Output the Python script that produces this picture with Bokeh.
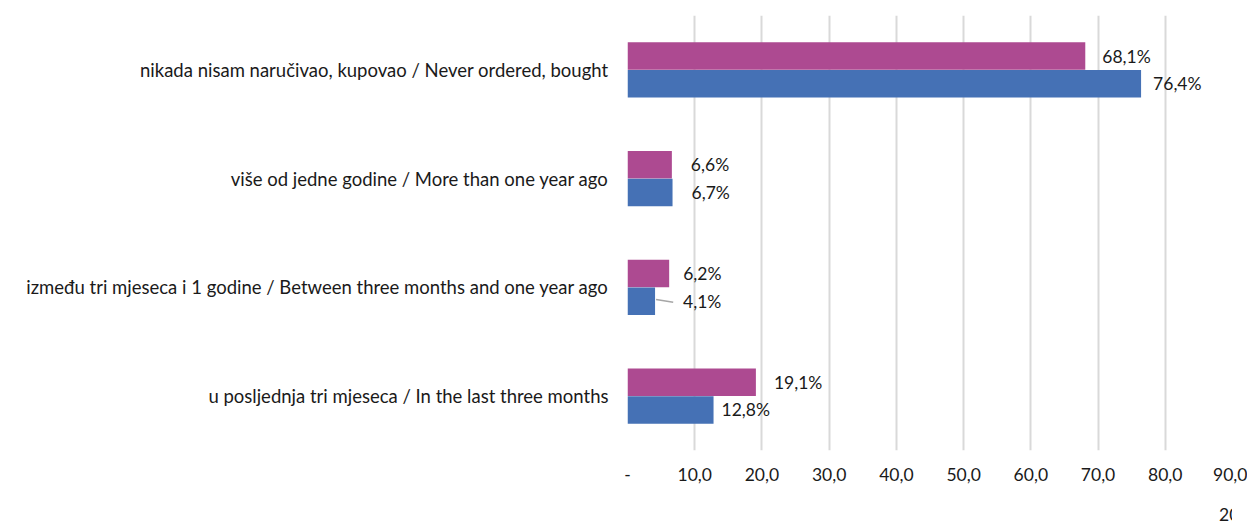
from bokeh.plotting import figure
from bokeh.layouts import column
from bokeh.models import ColumnDataSource, FactorRange, Range1d, FixedTicker, Legend, LegendItem
from bokeh.transform import dodge
from bokeh.embed import file_html
from bokeh.resources import INLINE
from bokeh.core.properties import value

categories = [
    "nikada nisam naručivao, kupovao / Never ordered, bought",
    "više od jedne godine / More than one year ago",
    "između tri mjeseca i 1 godine / Between three months and one year ago",
    "u posljednja tri mjeseca / In the last three months",
]
values_2018 = [68.1, 6.6, 6.2, 19.1]
values_2017 = [76.4, 6.7, 4.1, 12.8]
series_names = ["2018", "2017"]
x_ticks = [0, 10, 20, 30, 40, 50, 60, 70, 80, 90]
x_tick_labels = ["-", "10,0", "20,0", "30,0", "40,0", "50,0", "60,0", "70,0", "80,0", "90,0"]

# label pixel offsets (style) from bar ends
off_2018 = [17, 19, 14, 18]
off_2017 = [12, 19, 28, 8]

FONT = "Lato"
FS = "17.5px"
TXT = "#1a1a1a"
C18 = "#AD4A91"
C17 = "#4571B5"
BH = 0.253
DG = 0.127

src = ColumnDataSource(dict(
    cat=categories,
    v18=values_2018, v17=values_2017,
    l18=[f"{v:.1f}".replace(".", ",") + "%" for v in values_2018],
    l17=[f"{v:.1f}".replace(".", ",") + "%" for v in values_2017],
    o18=off_2018, o17=off_2017,
))

p = figure(
    frame_width=605, frame_height=435,
    y_range=FactorRange(factors=categories[::-1], range_padding=0),
    x_range=Range1d(0, 90),
    output_backend="svg", toolbar_location=None,
    min_border_left=627, min_border_right=15, min_border_top=15, min_border_bottom=40,
)
p.outline_line_color = None
p.background_fill_color = "white"

p.hbar(y=dodge("cat", DG, range=p.y_range), right="v18", left=0, height=BH,
       source=src, fill_color=C18, line_color=None)
p.hbar(y=dodge("cat", -DG, range=p.y_range), right="v17", left=0, height=BH,
       source=src, fill_color=C17, line_color=None)

p.text(x="v18", y=dodge("cat", DG, range=p.y_range), text="l18", x_offset="o18", source=src,
       text_font=value(FONT), text_font_size=FS, text_color=TXT,
       text_baseline="middle", text_align="left")
p.text(x="v17", y=dodge("cat", -DG, range=p.y_range), text="l17", x_offset="o17", source=src,
       text_font=value(FONT), text_font_size=FS, text_color=TXT,
       text_baseline="middle", text_align="left")

# leader line for the small 2017 value in the third category
lead_src = ColumnDataSource(dict(x=[values_2017[2]], cat=[categories[2]]))
p.segment(x0=dodge("x", 0.15), y0=dodge("cat", -DG + 0.015, range=p.y_range),
          x1=dodge("x", 2.7), y1=dodge("cat", -DG - 0.01, range=p.y_range),
          source=lead_src, line_color="#A6A6A6", line_width=1.5)

p.xgrid.grid_line_color = "#D9D9D9"
p.xgrid.grid_line_width = 2
p.ygrid.grid_line_color = None
p.xaxis.ticker = FixedTicker(ticks=x_ticks)
p.xaxis.major_label_overrides = {t: l for t, l in zip(x_ticks, x_tick_labels)}
p.xaxis.axis_line_color = None
p.xaxis.major_tick_line_color = None
p.xaxis.minor_tick_line_color = None
p.xaxis.major_label_standoff = 11
p.xaxis.major_label_text_font = FONT
p.xaxis.major_label_text_font_size = FS
p.xaxis.major_label_text_color = TXT

p.yaxis.axis_line_color = None
p.yaxis.major_tick_line_color = None
p.yaxis.minor_tick_line_color = None
p.yaxis.major_label_standoff = 13
p.yaxis.major_label_text_font = FONT
p.yaxis.major_label_text_font_size = "18.5px"
p.yaxis.major_label_text_color = TXT

# separate strip for the legend below the chart
lf = figure(width=1247, height=36, x_range=Range1d(0, 1), y_range=Range1d(0, 1),
            output_backend="svg", toolbar_location=None,
            x_axis_location=None, y_axis_location=None,
            min_border=0, min_border_left=0, min_border_right=0,
            min_border_top=0, min_border_bottom=0)
lf.outline_line_color = None
lf.grid.grid_line_color = None
empty = ColumnDataSource(dict(y=[], right=[]))
g18 = lf.hbar(y="y", right="right", left=0, height=0.5, source=empty, fill_color=C18, line_color=None)
g17 = lf.hbar(y="y", right="right", left=0, height=0.5, source=empty, fill_color=C17, line_color=None)

legend = Legend(items=[LegendItem(label=series_names[0], renderers=[g18]),
                       LegendItem(label=series_names[1], renderers=[g17])],
                orientation="horizontal", location=(578, 1),
                label_text_font=FONT, label_text_font_size=FS, label_text_color=TXT,
                glyph_width=11, glyph_height=11, spacing=20, label_standoff=3,
                label_height=16,
                border_line_color=None, background_fill_alpha=0, padding=0, margin=0)
lf.add_layout(legend, "center")

open("out.html", "w").write(file_html(column(p, lf), INLINE))
